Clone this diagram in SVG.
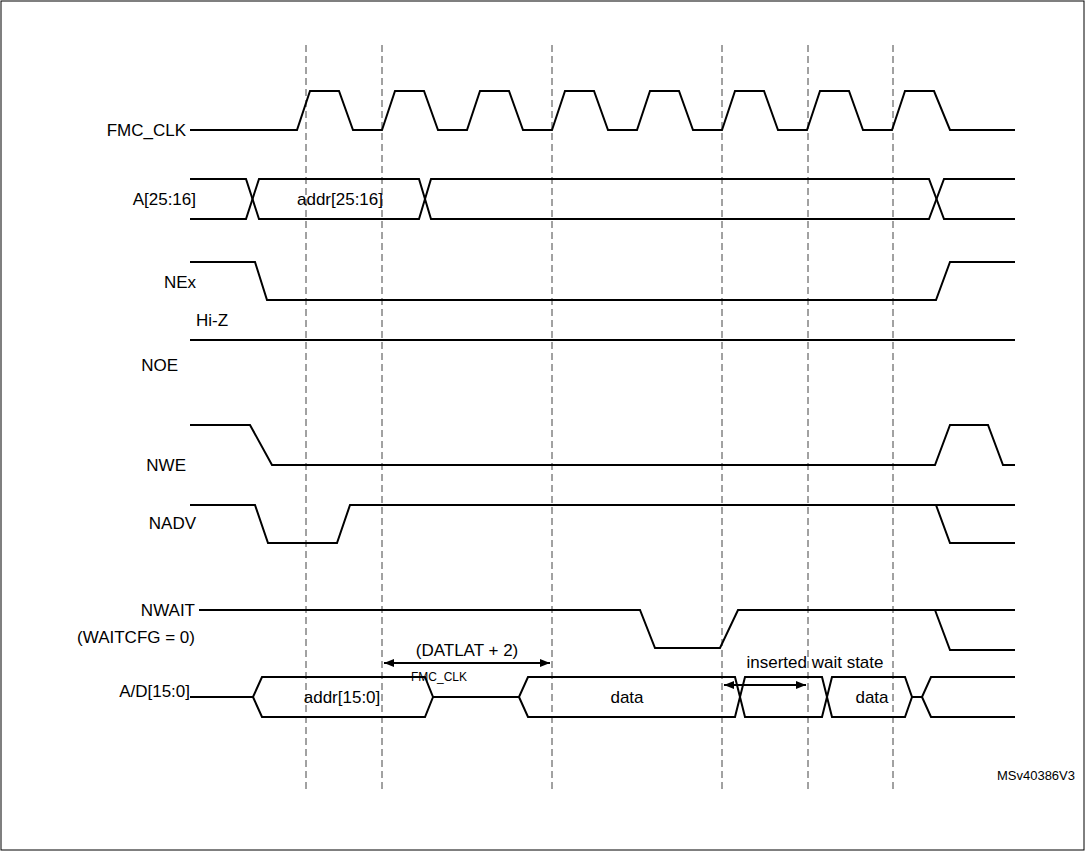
<svg xmlns="http://www.w3.org/2000/svg" width="1085" height="851" viewBox="0 0 1085 851">
<style>
.w{fill:none;stroke:#000;stroke-width:2}
.d{fill:none;stroke:#444;stroke-width:1;stroke-dasharray:7,4}
.t{font-family:"Liberation Sans",Arial,sans-serif;font-size:17px;fill:#000}
.r{text-anchor:end}
.m{text-anchor:middle}
</style>
<defs>
<marker id="a" viewBox="0 0 10 10" refX="10" refY="5" markerWidth="10" markerHeight="10" orient="auto-start-reverse" markerUnits="userSpaceOnUse"><path d="M0,1 L10,5 L0,9 z" fill="#000"/></marker>
</defs>
<rect x="1" y="1" width="1083" height="849" fill="#fff" stroke="#000" stroke-width="1"/>
<g id="grid">
<line class="d" x1="306" y1="45" x2="306" y2="790"/>
<line class="d" x1="382" y1="45" x2="382" y2="790"/>
<line class="d" x1="552" y1="45" x2="552" y2="790"/>
<line class="d" x1="722" y1="45" x2="722" y2="790"/>
<line class="d" x1="808" y1="45" x2="808" y2="790"/>
<line class="d" x1="893" y1="45" x2="893" y2="790"/>
</g>
<g id="fmc_clk">
<text class="t r" x="186" y="136">FMC_CLK</text>
<path class="w" d="M190,130 H297 L310,91 H339 L353,130 H382 L395,91 H424 L438,130 H467 L480,91 H509 L523,130 H552 L565,91 H594 L608,130 H637 L650,91 H679 L693,130 H722 L735,91 H764 L778,130 H807 L820,91 H849 L863,130 H892 L905,91 H934 L950,130 H1015"/>
</g>
<g id="a25">
<text class="t r" x="196" y="205">A[25:16]</text>
<path class="w" d="M190,179 H246 L259,219 H419 L431,179 H929 L944,219 H1015"/>
<path class="w" d="M190,219 H246 L259,179 H419 L431,219 H929 L944,179 H1015"/>
<text class="t m" x="340" y="205">addr[25:16]</text>
</g>
<g id="nex">
<text class="t r" x="196" y="288">NEx</text>
<path class="w" d="M190,262 H255 L267,300 H936 L950,262 H1015"/>
</g>
<g id="hiz">
<text class="t" x="196" y="326">Hi-Z</text>
<line class="w" x1="190" y1="340" x2="1015" y2="340"/>
</g>
<g id="noe"><text class="t r" x="178" y="371">NOE</text></g>
<g id="nwe">
<text class="t r" x="186" y="471">NWE</text>
<path class="w" d="M190,425 H250 L272,465 H935 L950,425 H988 L1003,465 H1015"/>
</g>
<g id="nadv">
<text class="t r" x="196" y="529">NADV</text>
<path class="w" d="M190,505 H255 L268,543 H337 L350,505 H1015"/>
<path class="w" d="M936,505 L950,543 H1015"/>
</g>
<g id="nwait">
<text class="t r" x="195" y="616">NWAIT</text>
<text class="t r" x="195" y="643">(WAITCFG = 0)</text>
<path class="w" d="M199,610 H640 L655,648 H720 L738,610 H1015"/>
<path class="w" d="M935,610 L950,650 H1015"/>
</g>
<g id="ad">
<text class="t r" x="190" y="697">A/D[15:0]</text>
<path class="w" d="M190,697 H253 L262,677 H425 L433,697 L425,717 H262 L253,697"/>
<path class="w" d="M433,697 H519 L528,677 H735 L745,717 H822 L832,677 H905 L912,697 L905,717 H832 L822,677 H745 L735,717 H528 L519,697"/>
<path class="w" d="M912,697 H922 L931,677 H1015 M922,697 L931,717 H1015"/>
<text class="t m" x="342" y="703">addr[15:0]</text>
<text class="t m" x="627" y="703">data</text>
<text class="t m" x="872" y="703">data</text>
</g>
<g id="connectors">
<line class="w" x1="384" y1="663" x2="550" y2="663" stroke-width="1.5" marker-start="url(#a)" marker-end="url(#a)"/>
<line class="w" x1="724" y1="685" x2="806" y2="685" stroke-width="1.5" marker-start="url(#a)" marker-end="url(#a)"/>
</g>
<text class="t m" x="467" y="656">(DATLAT + 2)</text>
<text class="t" x="411" y="681" style="font-size:12px">FMC_CLK</text>
<text class="t m" x="815" y="668">inserted wait state</text>
<text class="t r" x="1075" y="780" style="font-size:13px">MSv40386V3</text>
</svg>
